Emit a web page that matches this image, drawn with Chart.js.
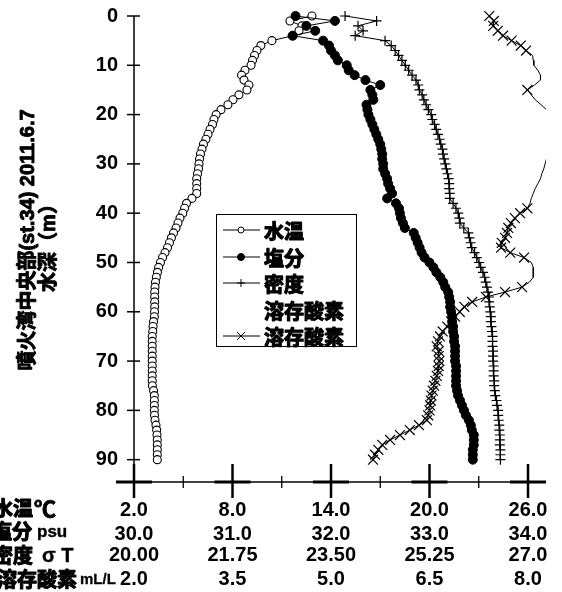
<!DOCTYPE html>
<html>
<head>
<meta charset="utf-8">
<script src="https://cdn.jsdelivr.net/npm/chart.js@4.4.0/dist/chart.umd.min.js"></script>
<style>
  html, body { margin: 0; padding: 0; background: #fff; }
  canvas { display: block; }
</style>
</head>
<body>
<canvas id="profile" width="562" height="592"></canvas>
<script>
// Sampling depths (m)
const depth = [
  0, 1, 2, 3, 4, 5, 6, 7, 8, 9,
  10, 11, 12, 13, 14, 15, 16, 17, 18, 19,
  20, 21, 22, 23, 24, 25, 26, 27, 28, 29,
  30, 31, 32, 33, 34, 35, 36, 37, 38, 39,
  40, 41, 42, 43, 44, 45, 46, 47, 48, 49,
  50, 51, 52, 53, 54, 55, 56, 57, 58, 59,
  60, 61, 62, 63, 64, 65, 66, 67, 68, 69,
  70, 71, 72, 73, 74, 75, 76, 77, 78, 79,
  80, 81, 82, 83, 84, 85, 86, 87, 88, 89, 90
];

// Water temperature (°C)
const temperature = [
  12.84, 11.50, 12.23, 12.05, 11.68, 10.40, 9.73, 9.49, 9.34, 9.22,
  9.13, 8.76, 8.55, 8.70, 9.00, 8.88, 8.39, 8.03, 7.72, 7.30,
  7.00, 6.87, 6.78, 6.63, 6.51, 6.38, 6.23, 6.14, 6.05, 5.99,
  5.96, 5.93, 5.87, 5.82, 5.82, 5.82, 5.82, 5.53, 5.20, 5.08,
  4.97, 4.80, 4.68, 4.56, 4.41, 4.28, 4.16, 4.04, 3.89, 3.74,
  3.61, 3.50, 3.43, 3.36, 3.31, 3.28, 3.26, 3.26, 3.26, 3.26,
  3.25, 3.24, 3.19, 3.16, 3.14, 3.11, 3.11, 3.11, 3.11, 3.11,
  3.11, 3.11, 3.11, 3.11, 3.11, 3.12, 3.19, 3.24, 3.24, 3.24,
  3.24, 3.25, 3.28, 3.34, 3.38, 3.40, 3.42, 3.42, 3.42, 3.42, 3.42
];

// Salinity (psu)
const salinity = [
  31.64, 32.04, 31.75, 31.84, 31.61, 31.92, 31.98, 32.00, 32.04, 32.07,
  32.16, 32.18, 32.24, 32.35, 32.50, 32.40, 32.42, 32.43, 32.36, 32.37,
  32.38, 32.40, 32.42, 32.44, 32.46, 32.48, 32.50, 32.51, 32.52, 32.52,
  32.53, 32.53, 32.55, 32.57, 32.58, 32.60, 32.62, 32.57, 32.66, 32.69,
  32.70, 32.71, 32.73, 32.75, 32.84, 32.86, 32.88, 32.90, 32.92, 32.95,
  33.00, 33.04, 33.07, 33.11, 33.14, 33.16, 33.19, 33.20, 33.21, 33.21,
  33.22, 33.23, 33.23, 33.24, 33.24, 33.25, 33.25, 33.26, 33.26, 33.26,
  33.26, 33.27, 33.27, 33.27, 33.27, 33.27, 33.28, 33.29, 33.31, 33.33,
  33.35, 33.37, 33.40, 33.42, 33.43, 33.45, 33.45, 33.45, 33.44, 33.44, 33.44
];

// Density (sigma-T)
const density = [
  23.75, 24.31, 23.98, 24.07, 23.93, 24.46, 24.57, 24.64, 24.70, 24.76,
  24.82, 24.88, 24.94, 25.01, 25.05, 25.07, 25.12, 25.15, 25.19, 25.23,
  25.28, 25.30, 25.34, 25.37, 25.40, 25.43, 25.45, 25.48, 25.49, 25.51,
  25.53, 25.55, 25.57, 25.59, 25.60, 25.60, 25.61, 25.61, 25.67, 25.72,
  25.76, 25.78, 25.79, 25.86, 25.94, 25.96, 25.98, 26.00, 26.05, 26.09,
  26.13, 26.16, 26.20, 26.23, 26.25, 26.27, 26.29, 26.31, 26.31, 26.32,
  26.33, 26.34, 26.34, 26.35, 26.36, 26.37, 26.37, 26.37, 26.38, 26.38,
  26.38, 26.39, 26.39, 26.39, 26.40, 26.40, 26.41, 26.42, 26.44, 26.45,
  26.47, 26.47, 26.48, 26.49, 26.49, 26.50, 26.50, 26.50, 26.51, 26.51, 26.51
];

// Dissolved oxygen (mL/L)
const oxygen = [
  7.41, 7.48, 7.47, 7.54, 7.62, 7.75, 7.89, 7.97, 8.07, 8.08,
  8.09, 8.15, 8.19, 8.19, 8.10, 7.99, 8.05, 8.11, 8.20, 8.28,
  8.36, 8.42, 8.46, 8.48, 8.47, 8.44, 8.40, 8.36, 8.31, 8.28,
  8.26, 8.24, 8.21, 8.19, 8.15, 8.11, 8.08, 8.05, 8.03, 7.99,
  7.88, 7.80, 7.74, 7.70, 7.68, 7.65, 7.60, 7.59, 7.73, 7.94,
  8.05, 8.08, 8.08, 8.08, 8.02, 7.91, 7.65, 7.36, 7.15, 7.03,
  6.96, 6.89, 6.83, 6.77, 6.70, 6.66, 6.63, 6.61, 6.64, 6.64,
  6.65, 6.64, 6.63, 6.61, 6.59, 6.57, 6.55, 6.53, 6.52, 6.51,
  6.50, 6.48, 6.46, 6.34, 6.20, 6.05, 5.90, 5.78, 5.72, 5.67, 5.64
];

// Depth ranges (m) where the oxygen samples carry a marker
const oxygenMarkerRanges = [[0, 7], [15, 15], [39, 49], [55, 90]];

// Axis ticks and labels
const depthTicks = [0, 10, 20, 30, 40, 50, 60, 70, 80, 90];
const tempTicks = [2, 8, 14, 20, 26];
const tempLabels = ['2.0', '8.0', '14.0', '20.0', '26.0'];
const tempMinorTicks = [5, 11, 17, 23];
const salTicks = [30, 31, 32, 33, 34];
const salLabels = ['30.0', '31.0', '32.0', '33.0', '34.0'];
const denTicks = [20, 21.75, 23.5, 25.25, 27];
const denLabels = ['20.00', '21.75', '23.50', '25.25', '27.0'];
const oxyTicks = [2, 3.5, 5, 6.5, 8];
const oxyLabels = ['2.0', '3.5', '5.0', '6.5', '8.0'];

const seriesNames = ['水温', '塩分', '密度', '溶存酸素', '溶存酸素'];
const titleLines = ['噴火湾中央部(st.34) 2011.6.7', '水深（m）'];
const rowTitles = [
  { name: '水温', unit: '℃' },
  { name: '塩分', unit: 'psu' },
  { name: '密度', unit: 'σ T' },
  { name: '溶存酸素', unit: 'mL/L' }
];

const LATIN = '"Liberation Sans", Arial, "Noto Sans CJK JP", sans-serif';
const CJK = '"Noto Sans CJK JP", "Noto Sans CJK SC", sans-serif';

const toPoints = (vals) => depth.map((d, i) => ({ x: vals[i], y: d }));
const oxygenMarked = depth
  .map((d, i) => ({ x: oxygen[i], y: d }))
  .filter(p => oxygenMarkerRanges.some(([a, b]) => p.y >= a && p.y <= b));

const clipSides = { left: 20, top: 20, right: 0, bottom: 20 };

const fixedTicks = (values) => (scale) => { scale.ticks = values.map(v => ({ value: v })); };
const labelFrom = (labels) => (value, index) => labels[index];

function strokeLine(ctx, x1, y1, x2, y2) {
  ctx.beginPath();
  ctx.moveTo(x1, y1);
  ctx.lineTo(x2, y2);
  ctx.stroke();
}

// Filled text with an outline of the same colour, for a heavy gothic look
function heavyText(ctx, text, x, y, weight) {
  ctx.fillText(text, x, y);
  ctx.lineWidth = weight;
  ctx.lineJoin = 'round';
  ctx.strokeStyle = ctx.fillStyle;
  ctx.strokeText(text, x, y);
}

// Axis lines with crossing tick marks
const axisFrame = {
  id: 'axisFrame',
  beforeDatasetsDraw(chart) {
    const { ctx, chartArea: a, scales } = chart;
    const xs = scales.x, ys = scales.y;
    const x0 = xs.getPixelForValue(tempTicks[0]);
    ctx.save();
    ctx.strokeStyle = '#000';
    ctx.lineCap = 'butt';
    ctx.lineWidth = 1.5;
    strokeLine(ctx, x0, ys.getPixelForValue(0), x0, a.bottom);
    depthTicks.forEach(v => {
      const py = ys.getPixelForValue(v);
      strokeLine(ctx, x0 - 7, py, x0 + 6, py);
    });
    strokeLine(ctx, a.left - 17, a.bottom, a.right, a.bottom);
    ctx.lineWidth = 3;
    tempTicks.forEach(v => {
      const px = xs.getPixelForValue(v);
      strokeLine(ctx, px - 18, a.bottom, px + 18, a.bottom);
    });
    ctx.lineWidth = 2.5;
    tempTicks.forEach(v => {
      const px = xs.getPixelForValue(v);
      strokeLine(ctx, px, a.bottom - 18, px, a.bottom + 16);
    });
    ctx.lineWidth = 1.3;
    tempMinorTicks.forEach(v => {
      const px = xs.getPixelForValue(v);
      strokeLine(ctx, px, a.bottom - 6, px, a.bottom + 6);
    });
    ctx.restore();
  }
};

// Boxed key drawn inside the plot
const insideKey = {
  id: 'insideKey',
  afterDatasetsDraw(chart) {
    const { ctx } = chart;
    const box = { x: 216.5, y: 214.5, w: 140, h: 132 };
    const rowY = [230, 257, 283, 310, 336];
    ctx.save();
    ctx.fillStyle = '#fff';
    ctx.fillRect(box.x, box.y, box.w, box.h);
    ctx.strokeStyle = '#000';
    ctx.lineWidth = 1;
    ctx.strokeRect(box.x, box.y, box.w, box.h);
    chart.data.datasets.forEach((ds, i) => {
      const y = rowY[i];
      if (ds.keySample !== false) {
        ctx.strokeStyle = '#000';
        ctx.lineWidth = 1;
        strokeLine(ctx, 223, y, 260, y);
        ctx.fillStyle = ds.pointBackgroundColor;
        if (ds.pointStyle === 'circle') {
          ctx.beginPath();
          ctx.arc(241, y, ds.keyRadius, 0, Math.PI * 2);
          ctx.fill();
          ctx.stroke();
        } else {
          Chart.helpers.drawPoint(ctx, {
            pointStyle: ds.pointStyle,
            radius: ds.keyRadius,
            borderWidth: 1,
            rotation: 0
          }, 241, y);
        }
      }
      ctx.fillStyle = '#000';
      ctx.font = 'bold 20px ' + CJK;
      ctx.textAlign = 'left';
      ctx.textBaseline = 'middle';
      heavyText(ctx, ds.label, 264, y + 1, 1.1);
    });
    ctx.restore();
  }
};

// Vertical title and the row names of the stacked value scales
const sideTitles = {
  id: 'sideTitles',
  afterDraw(chart) {
    const { ctx } = chart;
    ctx.save();
    ctx.fillStyle = '#000';
    ctx.textAlign = 'center';
    ctx.textBaseline = 'middle';
    ctx.font = 'bold 20px ' + LATIN;
    [[28, 240], [49, 243]].forEach(([cx, cy], i) => {
      ctx.save();
      ctx.translate(cx, cy);
      ctx.rotate(-Math.PI / 2);
      heavyText(ctx, titleLines[i], 0, 0, 0.9);
      ctx.restore();
    });
    const rows = [
      { y: 508, nameEnd: 33, unitX: 34, unitFont: 'bold 22px ' + CJK, unitWeight: 0.8 },
      { y: 531, nameEnd: 32, unitX: 37, unitFont: 'bold 17px ' + LATIN, unitWeight: 0.4 },
      { y: 555, nameEnd: 33, unitX: 42, unitFont: 'bold 20px ' + LATIN, unitWeight: 0.4 },
      { y: 579, nameEnd: 77, unitX: 80, unitFont: 'bold 15px ' + LATIN, unitWeight: 0.3 }
    ];
    rows.forEach((r, i) => {
      ctx.textBaseline = 'middle';
      ctx.font = 'bold 20px ' + CJK;
      ctx.textAlign = 'right';
      heavyText(ctx, rowTitles[i].name, r.nameEnd, r.y, 1.1);
      ctx.font = r.unitFont;
      ctx.textAlign = 'left';
      heavyText(ctx, rowTitles[i].unit, r.unitX, r.y + 1, r.unitWeight);
    });
    ctx.restore();
  }
};

Chart.defaults.color = '#000';
Chart.defaults.font.family = LATIN;
Chart.defaults.font.size = 20;
Chart.defaults.font.weight = 'bold';

const valueAxis = (min, max, weight, ticks, labels, tickLength, height) => ({
  type: 'linear',
  position: 'bottom',
  min: min,
  max: max,
  weight: weight,
  border: { display: false },
  grid: { display: false, drawTicks: true, tickLength: tickLength },
  ticks: {
    padding: 0,
    autoSkip: false,
    maxRotation: 0,
    minRotation: 0,
    font: { size: 20, weight: 'bold', family: LATIN, lineHeight: 1.2 },
    callback: labelFrom(labels)
  },
  afterBuildTicks: fixedTicks(ticks),
  afterFit: (s) => { s.height = height; }
});

new Chart(document.getElementById('profile'), {
  type: 'scatter',
  data: {
    datasets: [
      {
        label: seriesNames[0],
        data: toPoints(temperature),
        xAxisID: 'x',
        showLine: true,
        borderColor: '#000',
        borderWidth: 1,
        pointStyle: 'circle',
        pointRadius: 4,
        pointBorderWidth: 1.1,
        pointBorderColor: '#000',
        pointBackgroundColor: '#fff',
        keyRadius: 3,
        clip: clipSides,
        order: 5
      },
      {
        label: seriesNames[1],
        data: toPoints(salinity),
        xAxisID: 'xSal',
        showLine: true,
        borderColor: '#000',
        borderWidth: 1,
        pointStyle: 'circle',
        pointRadius: 4.5,
        pointBorderWidth: 1,
        pointBorderColor: '#000',
        pointBackgroundColor: '#000',
        keyRadius: 3.5,
        clip: clipSides,
        order: 4
      },
      {
        label: seriesNames[2],
        data: toPoints(density),
        xAxisID: 'xDen',
        showLine: true,
        borderColor: '#000',
        borderWidth: 1,
        pointStyle: 'cross',
        pointRadius: 5,
        pointBorderWidth: 1.2,
        pointBorderColor: '#000',
        pointBackgroundColor: '#000',
        keyRadius: 4,
        clip: clipSides,
        order: 3
      },
      {
        label: seriesNames[3],
        data: toPoints(oxygen),
        xAxisID: 'xOxy',
        showLine: true,
        borderColor: '#000',
        borderWidth: 1,
        pointRadius: 0,
        keySample: false,
        clip: clipSides,
        order: 2
      },
      {
        label: seriesNames[4],
        data: oxygenMarked,
        xAxisID: 'xOxy',
        showLine: false,
        borderColor: '#000',
        pointStyle: 'crossRot',
        pointRadius: 7,
        pointBorderWidth: 1.2,
        pointBorderColor: '#000',
        pointBackgroundColor: '#000',
        keyRadius: 5.5,
        clip: clipSides,
        order: 1
      }
    ]
  },
  options: {
    responsive: false,
    devicePixelRatio: 1,
    animation: false,
    events: [],
    layout: { padding: { left: 0, top: 16, right: 16, bottom: 0 } },
    plugins: { legend: { display: false }, tooltip: { enabled: false } },
    scales: {
      y: {
        type: 'linear',
        position: 'left',
        reverse: true,
        min: 0,
        max: 94.53,
        border: { display: false },
        grid: { display: false, drawTicks: true, tickLength: 16 },
        ticks: {
          padding: 0,
          autoSkip: false,
          font: { size: 20, weight: 'bold', family: LATIN, lineHeight: 1.2 }
        },
        afterBuildTicks: fixedTicks(depthTicks),
        afterFit: (s) => { s.width = 134; }
      },
      x: valueAxis(2, 27.096, 0, tempTicks, tempLabels, 16, 40),
      xSal: valueAxis(30, 34.183, 1, salTicks, salLabels, 0, 21),
      xDen: valueAxis(20, 27.32, 2, denTicks, denLabels, 0, 24),
      xOxy: valueAxis(2, 8.274, 3, oxyTicks, oxyLabels, 0, 25)
    }
  },
  plugins: [axisFrame, insideKey, sideTitles]
});
</script>
</body>
</html>
